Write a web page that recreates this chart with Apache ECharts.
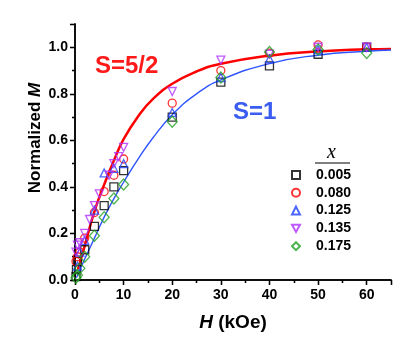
<!DOCTYPE html>
<html>
<head>
<meta charset="utf-8">
<script src="https://cdn.jsdelivr.net/npm/echarts@6/dist/echarts.min.js"></script>
<style>
  html, body { margin: 0; padding: 0; background: #fff; }
  #myChart { width: 415px; height: 353px; }
</style>
</head>
<body>
<div id="myChart"></div>
<script>
// values: [H (kOe), normalized M]
const x005 = [[0.2, 0.015], [0.3, 0.045], [0.5, 0.08], [2, 0.13], [4, 0.23], [6, 0.32], [8, 0.40], [10, 0.47], [20, 0.70], [30, 0.85], [40, 0.92], [50, 0.97], [60, 1.0]];
const x080 = [[0.2, 0.08], [0.5, 0.10], [1, 0.12], [2, 0.18], [4, 0.29], [6, 0.38], [8, 0.45], [10, 0.52], [20, 0.76], [30, 0.90], [40, 0.975], [50, 1.01], [60, 1.0]];
const x125 = [[0.5, 0.06], [1, 0.12], [2, 0.17], [4, 0.30], [6, 0.46], [8, 0.48], [10, 0.50], [20, 0.72], [30, 0.87], [40, 0.95], [50, 0.99], [60, 1.0]];
const x135 = [[0.2, 0.12], [0.5, 0.15], [1, 0.16], [2, 0.20], [3, 0.26], [4, 0.32], [5, 0.37], [7, 0.45], [8, 0.50], [9, 0.53], [10, 0.57], [20, 0.81], [30, 0.945], [40, 0.97], [50, 1.0], [60, 1.0]];
const x175 = [[0.2, 0.01], [0.5, 0.02], [1, 0.05], [2, 0.10], [4, 0.19], [6, 0.27], [8, 0.35], [10, 0.41], [20, 0.68], [30, 0.87], [40, 0.98], [50, 0.99], [60, 0.975]];

// fitted curves
const curveS52 = [[0.6, 0.045], [1, 0.074], [2, 0.147], [4, 0.295], [6, 0.41], [8, 0.513], [10, 0.605], [13, 0.704], [16, 0.777], [20, 0.843], [25, 0.896], [30, 0.929], [40, 0.964], [50, 0.982], [60, 0.991], [65, 0.993]];
const curveS1 = [[0.3, 0.01], [2, 0.09], [4, 0.18], [6, 0.27], [8, 0.35], [10, 0.42], [13, 0.52], [16, 0.61], [20, 0.71], [25, 0.80], [30, 0.86], [40, 0.93], [50, 0.966], [60, 0.983], [65, 0.988]];

const legendNames = ["0.005", "0.080", "0.125", "0.135", "0.175"];

const FONT = "'Liberation Sans', Arial, sans-serif";
const TRI_DOWN = "path://M0,0 L10,0 L5,9 Z";

function marker(name, data, symbol, color) {
  return {
    name: name,
    type: "scatter",
    data: data,
    symbol: symbol,
    symbolSize: symbol === "diamond" ? [10, 11] : 8,
    itemStyle: { color: "rgba(0,0,0,0)", borderColor: color, borderWidth: 1.3 },
    z: 3
  };
}

let myChart = echarts.init(document.getElementById("myChart"));
const axisLine = { show: true, lineStyle: { color: "#000", width: 1.5 } };

myChart.setOption({
  animation: false,
  grid: { left: 75, right: 24, top: 24, bottom: 73 },
  legend: {
    data: legendNames,
    orient: "vertical",
    left: 286,
    top: 163,
    itemWidth: 8,
    itemHeight: 8,
    itemGap: 3.8,
    textStyle: { fontFamily: FONT, fontWeight: "bold", fontSize: 14, color: "#000", lineHeight: 14, padding: [0, 0, 0, 11] }
  },
  xAxis: [
    {
      type: "value", min: 0, max: 65, interval: 10, position: "bottom",
      axisLine: axisLine,
      axisTick: { show: true, inside: false, length: 5, lineStyle: { width: 1.3 } },
      minorTick: { show: true, splitNumber: 2, length: 3, lineStyle: { color: "#000", width: 1.3 } },
      splitLine: { show: false },
      axisLabel: { fontFamily: FONT, fontWeight: "bold", fontSize: 14, color: "#000", margin: 8, showMaxLabel: false },
      name: "{i|H} (kOe)", nameLocation: "middle", nameGap: 33,
      nameTextStyle: { fontFamily: FONT, fontWeight: "bold", fontSize: 19, color: "#000",
        rich: { i: { fontFamily: FONT, fontWeight: "bold", fontStyle: "italic", fontSize: 19, color: "#000" } } }
    },
    {
      type: "value", min: 0, max: 65, interval: 10, position: "top",
      axisLine: axisLine,
      axisTick: { show: true, inside: true, length: 5, lineStyle: { width: 1.3 } },
      minorTick: { show: true, splitNumber: 2, length: 3, lineStyle: { color: "#000", width: 1.3 } },
      splitLine: { show: false },
      axisLabel: { show: false }
    }
  ],
  yAxis: [
    {
      type: "value", min: 0, max: 1.1, interval: 0.2, position: "left",
      axisLine: axisLine,
      axisTick: { show: true, inside: false, length: 5, lineStyle: { width: 1.3 } },
      minorTick: { show: true, splitNumber: 2, length: 3, lineStyle: { color: "#000", width: 1.3 } },
      splitLine: { show: false },
      axisLabel: { fontFamily: FONT, fontWeight: "bold", fontSize: 14, color: "#000", margin: 7, showMaxLabel: false,
        formatter: v => v.toFixed(1) }
    },
    {
      type: "value", min: 0, max: 1.1, interval: 0.2, position: "right",
      axisLine: axisLine,
      axisTick: { show: true, inside: true, length: 5, lineStyle: { width: 1.3 } },
      minorTick: { show: true, splitNumber: 2, length: 3, lineStyle: { color: "#000", width: 1.3 } },
      splitLine: { show: false },
      axisLabel: { show: false }
    }
  ],
  graphic: [
    {
      type: "text", x: 35, y: 138, rotation: Math.PI / 2,
      style: {
        text: "Normalized {i|M}", font: "bold 17px " + FONT, fill: "#000",
        align: "center", verticalAlign: "middle",
        rich: { i: { fontFamily: FONT, fontWeight: "bold", fontStyle: "italic", fontSize: 17, fill: "#000" } }
      }
    },
    { type: "text", left: 95, top: 54, style: { text: "S=5/2", font: "bold 24px " + FONT, fill: "#ff1a1a" } },
    { type: "text", left: 233, top: 100, style: { text: "S=1", font: "bold 24px " + FONT, fill: "#3a5cf0" } },
    { type: "text", left: 327, top: 143, style: { text: "x", font: "italic 20px 'Liberation Serif', 'Times New Roman', serif", fill: "#000" } },
    { type: "line", shape: { x1: 315, y1: 163, x2: 350, y2: 163 }, style: { stroke: "#000", lineWidth: 1.2 } }
  ],
  series: [
    {
      name: "S=5/2", type: "line", data: curveS52, smooth: true, showSymbol: false,
      lineStyle: { color: "#ff0000", width: 2.5 }, z: 2
    },
    {
      name: "S=1", type: "line", data: curveS1, smooth: true, showSymbol: false,
      lineStyle: { color: "#2f55ff", width: 1.4 }, z: 2
    },
    marker("0.005", x005, "rect", "#000000"),
    marker("0.080", x080, "circle", "#ff0000"),
    marker("0.125", x125, "triangle", "#2040ff"),
    marker("0.135", x135, TRI_DOWN, "#b030ff"),
    marker("0.175", x175, "diamond", "#20a020")
  ]
});
</script>
</body>
</html>
